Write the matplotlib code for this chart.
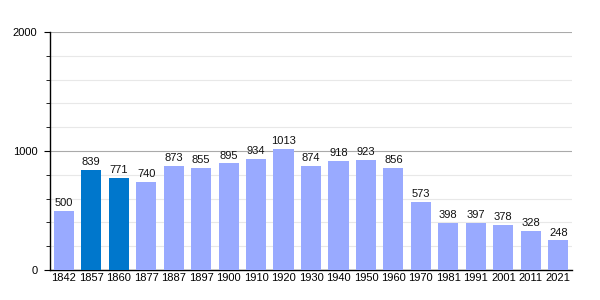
import matplotlib
matplotlib.use("Agg")
import matplotlib.pyplot as plt
from matplotlib.ticker import MultipleLocator

years = ["1842", "1857", "1860", "1877", "1887", "1897", "1900", "1910", "1920", "1930",
         "1940", "1950", "1960", "1970", "1981", "1991", "2001", "2011", "2021"]
population = [500, 839, 771, 740, 873, 855, 895, 934, 1013, 874,
              918, 923, 856, 573, 398, 397, 378, 328, 248]
highlight = ["1857", "1860"]

light = "#99aaff"
dark = "#0077cc"

plt.rcParams['font.family'] = ['Liberation Sans', 'DejaVu Sans']

fig = plt.figure(figsize=(6, 3), dpi=100)
ax = fig.add_axes([50/600, 30/300, 522/600, 238/300])

x = list(range(len(years)))
colors = [dark if y in highlight else light for y in years]
ax.bar(x, population, width=0.73, color=colors, zorder=3)
for xi, v in zip(x, population):
    ax.text(xi, v + 25, str(v), ha="center", va="bottom", fontsize=8, color="#111111", zorder=4)

ax.set_xlim(-0.5, len(years) - 0.5)
ax.set_ylim(0, 2000)
ax.set_xticks(x)
ax.set_xticklabels(years, fontsize=8)
ax.tick_params(axis="x", length=0, pad=2)
ax.yaxis.set_major_locator(MultipleLocator(1000))
ax.yaxis.set_minor_locator(MultipleLocator(200))
ax.tick_params(axis="y", which="major", length=4, labelsize=8, pad=5)
ax.tick_params(axis="y", which="minor", length=3)
ax.grid(axis="y", which="major", color="#aaaaaa", linewidth=0.8, zorder=0)
ax.grid(axis="y", which="minor", color="#e8e8e8", linewidth=0.8, zorder=0)
for s in ["top", "right"]:
    ax.spines[s].set_visible(False)
ax.spines["left"].set_linewidth(1.0)
ax.spines["bottom"].set_linewidth(1.0)

fig.savefig("out.png", dpi=100)
